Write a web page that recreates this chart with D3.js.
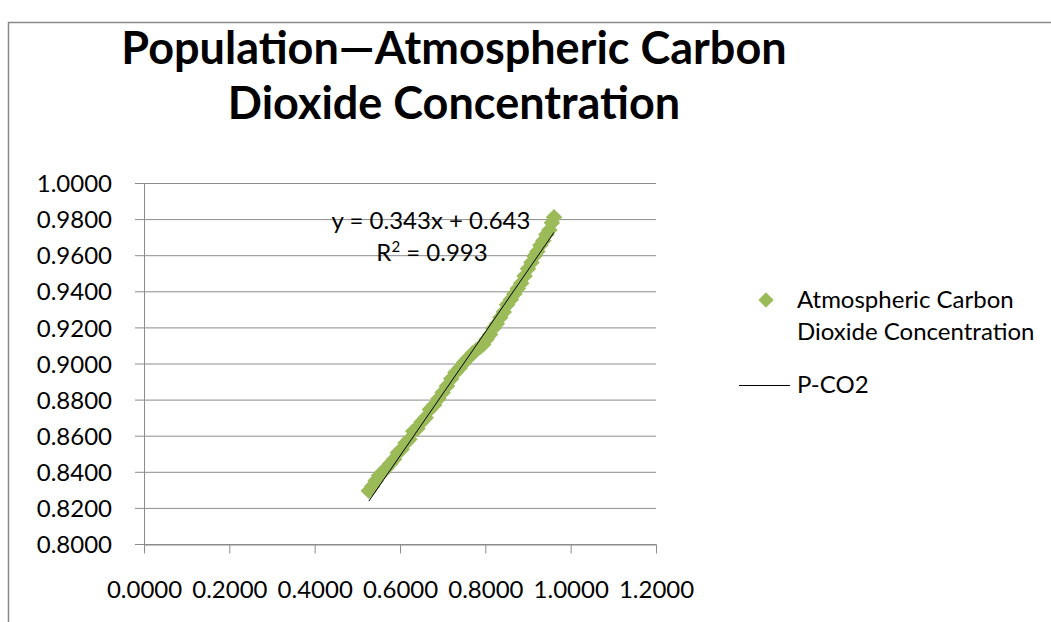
<!DOCTYPE html>
<html>
<head>
<meta charset="utf-8">
<script src="https://cdn.jsdelivr.net/npm/d3@7"></script>
<style>
  body { margin: 0; background: #fff; }
  svg text { font-family: Lato, "Open Sans", sans-serif; fill: #000; }
</style>
</head>
<body>
<svg id="chart" width="1051" height="622"></svg>
<script>
// population (normalised) vs CO2 concentration (normalised)
const popValues = [
  0.527, 0.535, 0.543, 0.551, 0.560, 0.568, 0.577, 0.586, 0.595, 0.604,
  0.613, 0.622, 0.631, 0.641, 0.650, 0.660, 0.670, 0.680, 0.690, 0.700,
  0.710, 0.720, 0.730, 0.740, 0.750, 0.760, 0.770, 0.779, 0.787, 0.795,
  0.803, 0.811, 0.819, 0.827, 0.835, 0.843, 0.851, 0.860, 0.868, 0.876,
  0.884, 0.892, 0.900, 0.908, 0.915, 0.922, 0.929, 0.936, 0.943, 0.950,
  0.956, 0.961
]
const co2Values = [
  0.8295, 0.8320, 0.8350, 0.8380, 0.8400, 0.8420, 0.8445, 0.8470, 0.8505, 0.8525,
  0.8560, 0.8580, 0.8625, 0.8640, 0.8675, 0.8700, 0.8745, 0.8770, 0.8805, 0.8840,
  0.8875, 0.8915, 0.8950, 0.8975, 0.9005, 0.9030, 0.9055, 0.9075, 0.9090, 0.9105,
  0.9135, 0.9160, 0.9195, 0.9220, 0.9255, 0.9285, 0.9325, 0.9355, 0.9385, 0.9415,
  0.9445, 0.9485, 0.9525, 0.9560, 0.9595, 0.9620, 0.9655, 0.9680, 0.9715, 0.9740,
  0.9780, 0.9810
]
const xTicks = [0, 0.2, 0.4, 0.6, 0.8, 1.0, 1.2]
const yTicks = [0.80, 0.82, 0.84, 0.86, 0.88, 0.90, 0.92, 0.94, 0.96, 0.98, 1.00]
const trend = { slope: 0.343, intercept: 0.643, r2: 0.993 }
const titleLines = ['Population\u2014Atmospheric Carbon', 'Dioxide Concentration']
const seriesLines = ['Atmospheric Carbon', 'Dioxide Concentration']
const trendName = 'P-CO2'

const green = '#9bbb59'
const gridColor = '#8c8c8c'

const plot = { left: 144, right: 656, top: 183, bottom: 544 }

const svg = d3.select('#chart')

// outer chart frame
svg.append('path')
    .attr('d', 'M8.5,622 L8.5,22.5 L1051,22.5')
    .attr('fill', 'none')
    .attr('stroke', '#8a8a8a')
    .attr('stroke-width', 1.5)

const x = d3.scaleLinear().domain([0, 1.2]).range([plot.left, plot.right])
const y = d3.scaleLinear().domain([0.8, 1.0]).range([plot.bottom, plot.top])

// title
svg.append('text')
    .attr('text-anchor', 'middle')
    .style('font-weight', 'bold')
    .style('font-size', '45px')
    .selectAll('tspan')
    .data(titleLines)
    .enter().append('tspan')
      .attr('x', 454)
      .attr('y', (d, i) => 64 + i * 55)
      .text(d => d)

// horizontal gridlines + y axis
const yAxis = d3.axisLeft(y)
    .tickValues(yTicks)
    .tickFormat(d3.format('.4f'))
    .tickSize(-(plot.right - plot.left) - 9)

const yg = svg.append('g')
    .attr('transform', `translate(${plot.left - 9},0)`)
    .call(yAxis)
yg.select('.domain').remove()
yg.selectAll('line').attr('stroke', gridColor)
yg.selectAll('text')
    .attr('x', -23)
    .attr('dy', '0.36em')
    .style('font-size', '24px')
    .style('font-family', 'Lato, sans-serif')

svg.append('line')
    .attr('x1', plot.left + 0.5).attr('x2', plot.left + 0.5)
    .attr('y1', plot.top).attr('y2', plot.bottom)
    .attr('stroke', gridColor)

// x axis
const xAxis = d3.axisBottom(x)
    .tickValues(xTicks)
    .tickFormat(d3.format('.4f'))
    .tickSize(9)
    .tickSizeOuter(0)
    .tickPadding(27)

const xg = svg.append('g')
    .attr('transform', `translate(0,${plot.bottom + 0.5})`)
    .call(xAxis)
xg.select('.domain').attr('stroke', gridColor)
xg.selectAll('line').attr('stroke', gridColor)
xg.selectAll('text')
    .style('font-size', '24px')
    .style('font-family', 'Lato, sans-serif')

// data points
const points = popValues.map((p, i) => ({ x: p, y: co2Values[i] }))
const diamond = d3.symbol().type(d3.symbolDiamond2).size(175)

svg.append('g').selectAll('path')
    .data(points)
    .enter().append('path')
      .attr('d', diamond)
      .attr('transform', d => `translate(${x(d.x)},${y(d.y)})`)
      .attr('fill', green)

// linear trendline
const xMin = d3.min(popValues), xMax = d3.max(popValues)
svg.append('line')
    .attr('x1', x(xMin)).attr('y1', y(trend.slope * xMin + trend.intercept))
    .attr('x2', x(xMax)).attr('y2', y(trend.slope * xMax + trend.intercept))
    .attr('stroke', '#000')
    .attr('stroke-width', 1)

// equation label
const eq = svg.append('g').attr('text-anchor', 'middle').style('font-size', '24px')
eq.append('text')
    .attr('x', 431).attr('y', 229)
    .text(`y = ${trend.slope}x + ${trend.intercept}`)
const r2 = eq.append('text').attr('x', 432).attr('y', 261)
r2.append('tspan').text('R')
r2.append('tspan').attr('dy', -9).style('font-size', '15px').text('2')
r2.append('tspan').attr('dy', 9).text(` = ${trend.r2}`)

// legend
const legend = svg.append('g').style('font-size', '24px')
legend.append('path')
    .attr('d', d3.symbol().type(d3.symbolDiamond2).size(150))
    .attr('transform', 'translate(766,300)')
    .attr('fill', green)
legend.append('text')
    .selectAll('tspan')
    .data(seriesLines)
    .enter().append('tspan')
      .attr('x', 797)
      .attr('y', (d, i) => 308 + i * 32)
      .text(d => d)
legend.append('line')
    .attr('x1', 739).attr('x2', 790)
    .attr('y1', 385.5).attr('y2', 385.5)
    .attr('stroke', '#000')
legend.append('text')
    .attr('x', 797).attr('y', 393)
    .text(trendName)
</script>
</body>
</html>
